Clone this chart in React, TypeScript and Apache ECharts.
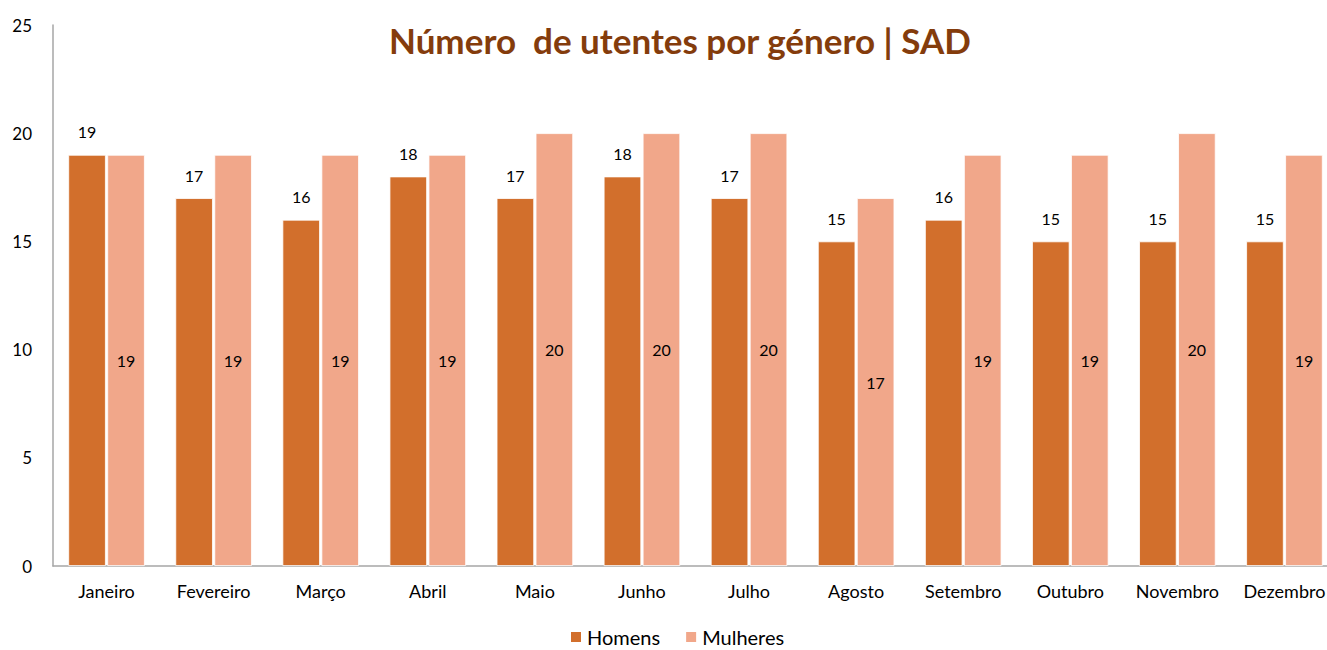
import React, { useEffect, useRef } from "react";
import * as echarts from "echarts";

const categories = ["Janeiro", "Fevereiro", "Março", "Abril", "Maio", "Junho", "Julho", "Agosto", "Setembro", "Outubro", "Novembro", "Dezembro"];
const homens = [19, 17, 16, 18, 17, 18, 17, 15, 16, 15, 15, 15];
const mulheres = [19, 19, 19, 19, 20, 20, 20, 17, 19, 19, 20, 19];
const titleText = "Número  de utentes por género | SAD";

const FONT = "Lato";

export default function App() {
  const ref = useRef<HTMLDivElement>(null);
  useEffect(() => {
    if (!ref.current) return;
    const chart = echarts.init(ref.current, undefined, { renderer: "svg" });
    chart.setOption({
      animation: false,
      backgroundColor: "#ffffff",
      title: {
        text: titleText,
        left: 384,
        top: 17,
        textStyle: { color: "#843C0C", fontSize: 35, fontWeight: "bold", fontFamily: FONT },
      },
      legend: {
        top: 627,
        left: 569,
        padding: 0,
        itemWidth: 12,
        itemHeight: 12,
        itemGap: 24,
        icon: "rect",
        textStyle: { fontSize: 20, lineHeight: 20, color: "#000", fontFamily: FONT },
        data: ["Homens", "Mulheres"],
      },
      grid: { left: 53, right: 0, top: 25, bottom: 84, containLabel: false },
      xAxis: {
        type: "category",
        data: categories,
        axisLine: { lineStyle: { color: "#A6A6A6", width: 1.5 } },
        axisTick: { show: false },
        axisLabel: { color: "#000", fontSize: 18, fontFamily: FONT, margin: 16, interval: 0 },
      },
      yAxis: {
        type: "value",
        min: 0,
        max: 25,
        interval: 5,
        axisLine: { show: true, lineStyle: { color: "#A6A6A6", width: 1.5 } },
        axisTick: { show: false },
        splitLine: { show: false },
        axisLabel: { color: "#000", fontSize: 17, fontFamily: FONT, margin: 21 },
      },
      series: [
        {
          name: "Homens",
          type: "bar",
          data: homens,
          barWidth: 37.5,
          barGap: "4%",
          itemStyle: { color: "#D26F2C", borderColor: "#fff", borderWidth: 0.8 },
          label: { show: true, position: "top", distance: 15, color: "#000", fontSize: 16, fontFamily: FONT },
        },
        {
          name: "Mulheres",
          type: "bar",
          data: mulheres,
          barWidth: 37.5,
          itemStyle: { color: "#F1A78A", borderColor: "#fff", borderWidth: 0.8 },
          label: { show: true, position: "inside", color: "#000", fontSize: 16, fontFamily: FONT },
        },
      ],
    });
    return () => chart.dispose();
  }, []);
  return (
    <div style={{ position: "absolute", left: 0, top: 0, width: 1327, height: 650, overflow: "hidden" }}>
      <div ref={ref} style={{ position: "absolute", left: 0, top: 0, width: 1338, height: 650 }} />
    </div>
  );
}
